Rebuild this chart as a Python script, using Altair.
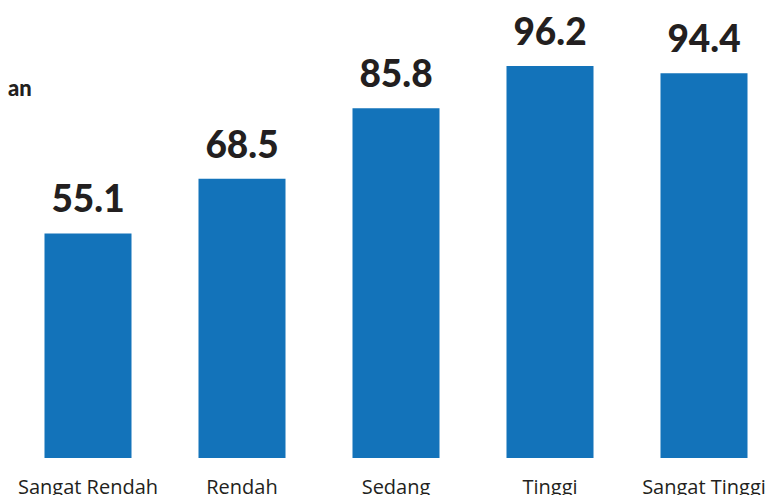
import altair as alt
import pandas as pd

categories = ["Sangat Rendah", "Rendah", "Sedang", "Tinggi", "Sangat Tinggi"]
values = [55.1, 68.5, 85.8, 96.2, 94.4]
title_fragment = ["an"]

df = pd.DataFrame({"cat": categories, "val": values})
df["label"] = df["val"].map(lambda v: f"{v:.1f}")

x = alt.X("cat:N", sort=categories,
          scale=alt.Scale(range=[3, 773], paddingInner=0.435, paddingOuter=0.2175),
          axis=alt.Axis(title=None, labelAngle=0, domain=False, ticks=False,
                        labelFont="Open Sans", labelFontSize=20, labelColor="#231f20",
                        labelPadding=19, labelOverlap=False, labelLimit=300))
y = alt.Y("val:Q", scale=alt.Scale(domain=[0, 110.4], nice=False), axis=None)

bars = alt.Chart(df).mark_bar(color="#1373BA").encode(x=x, y=y)
labels = alt.Chart(df).mark_text(font="Lato", fontWeight=900, fontSize=37,
                                 color="#231f20", baseline="alphabetic", dy=-21).encode(
    x=x, y=y, text="label:N")
frag = alt.Chart(pd.DataFrame({"t": title_fragment})).mark_text(
    font="Lato", fontWeight=900, fontSize=22, color="#231f20",
    align="left", baseline="alphabetic").encode(
    x=alt.value(0), y=alt.value(88), text="t:N")

chart = alt.layer(bars, labels, frag).properties(
    width=762, height=450,
    padding={"left": 0, "top": 0, "right": 0, "bottom": 37},
    autosize=alt.AutoSizeParams(type="none"),
).configure_view(stroke=None)

chart.save("out.html", embed_options={"renderer": "svg", "actions": False})
